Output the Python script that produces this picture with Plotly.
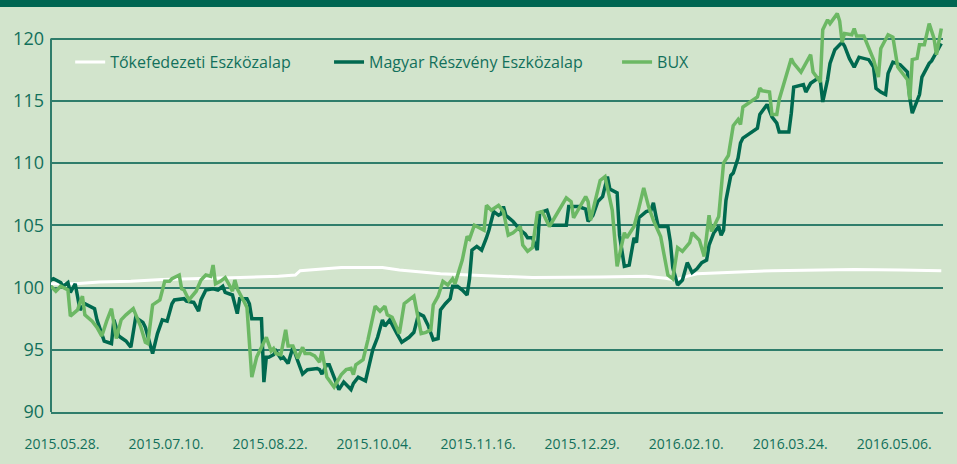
import pandas as pd
import plotly.graph_objects as go

# ---------------- data ----------------
base_date = "2015-05-28"

tick_dates = ["2015-05-28", "2015-07-10", "2015-08-22", "2015-10-04", "2015-11-16",
              "2015-12-29", "2016-02-10", "2016-03-24", "2016-05-06"]
tick_labels = ["2015.05.28.", "2015.07.10.", "2015.08.22.", "2015.10.04.", "2015.11.16.",
               "2015.12.29.", "2016.02.10.", "2016.03.24.", "2016.05.06."]

# day offsets from base_date
tokefed_days = [0, 10, 20, 33, 46, 62, 78, 94, 101, 103, 120, 137, 144, 161, 180, 199,
                227, 246, 254, 258, 264, 267, 298, 332, 351, 368]
tokefed_vals = [100.3, 100.3, 100.45, 100.5, 100.65, 100.7, 100.8, 100.9, 101.0, 101.35,
                101.6, 101.6, 101.4, 101.1, 100.95, 100.8, 100.85, 100.9, 100.75, 100.6,
                100.95, 101.1, 101.35, 101.45, 101.4, 101.35]

magyar_days = [0, 1, 4, 5, 7, 8, 10, 12, 14, 18,
               19, 22, 25, 26, 28, 31, 33, 35, 38, 39,
               42, 44, 46, 48, 50, 51, 55, 56, 59, 61,
               62, 64, 67, 69, 71, 72, 75, 77, 78, 81,
               82, 83, 87, 88, 89, 90, 92, 93, 95, 96,
               98, 100, 102, 104, 106, 110, 111, 112, 114, 115,
               117, 119, 121, 124, 125, 127, 130, 133, 135, 137,
               138, 140, 143, 145, 148, 150, 152, 154, 156, 158,
               160, 161, 163, 165, 166, 168, 170, 172, 173, 174,
               176, 178, 180, 181, 183, 185, 186, 187, 188, 191,
               194, 196, 197, 199, 201, 202, 205, 207, 213, 214,
               218, 221, 222, 224, 226, 228, 230, 231, 234, 235,
               237, 239, 241, 242, 243, 246, 248, 249, 250, 251,
               255, 256, 257, 259, 261, 263, 265, 267, 269, 271,
               272, 274, 276, 277, 278, 279, 281, 282, 284, 285,
               286, 289, 292, 293, 296, 298, 300, 301, 305, 306,
               307, 311, 312, 314, 317, 318, 319, 321, 322, 324,
               325, 327, 328, 330, 332, 334, 338, 340, 341, 343,
               345, 346, 348, 351, 354, 355, 356, 359, 360, 363,
               364, 366, 368]
magyar_vals = [100.6, 100.7, 100.4, 100.1, 100.4, 99.6, 100.3, 98.2, 98.7, 98.3,
               97.4, 95.7, 95.5, 97.4, 96.1, 95.7, 95.2, 97.6, 97.2, 96.8,
               94.7, 96.3, 97.4, 97.3, 98.7, 99.0, 99.1, 98.9, 98.8, 98.1,
               99.0, 99.8, 99.9, 99.8, 100.1, 99.6, 99.4, 97.9, 99.1, 99.1,
               98.7, 97.5, 97.5, 92.4, 94.4, 94.4, 94.6, 94.9, 94.3, 94.4,
               93.9, 95.2, 94.1, 93.05, 93.4, 93.5, 93.4, 93.05, 93.8, 93.8,
               92.8, 91.8, 92.4, 91.8, 92.3, 92.8, 92.5, 95.0, 96.0, 97.4,
               96.9, 97.4, 96.3, 95.6, 96.0, 96.4, 97.9, 97.7, 96.9, 95.8,
               95.9, 98.2, 98.7, 99.1, 100.1, 100.1, 99.8, 99.4, 100.7, 103.0,
               103.3, 103.0, 104.0, 104.6, 106.1, 105.8, 105.9, 106.5, 105.8, 105.3,
               104.6, 104.3, 104.0, 104.0, 103.0, 106.0, 106.2, 105.0, 105.0, 106.5,
               106.5, 106.3, 105.3, 105.8, 106.9, 107.3, 108.9, 107.9, 107.6, 104.2,
               101.7, 101.8, 104.0, 103.6, 105.6, 106.1, 106.2, 106.8, 105.8, 104.9,
               104.9, 103.7, 101.6, 100.2, 100.6, 102.0, 101.2, 101.5, 102.0, 102.2,
               103.4, 104.4, 104.9, 104.2, 104.6, 107.0, 109.0, 109.2, 110.4, 111.6,
               112.0, 112.4, 112.8, 113.9, 114.7, 113.7, 113.2, 112.5, 112.5, 114.0,
               116.1, 116.3, 115.7, 116.4, 116.8, 116.6, 114.9, 116.7, 118.0, 119.1,
               119.3, 119.7, 119.4, 118.4, 117.7, 118.5, 118.3, 117.7, 116.0, 115.7,
               115.5, 117.2, 118.1, 117.9, 117.3, 115.2, 114.0, 115.5, 116.9, 118.0,
               118.2, 118.9, 119.6]

bux_days = [0, 2, 4, 7, 8, 11, 12, 13, 14, 17,
            19, 21, 23, 25, 27, 29, 31, 34, 37, 39,
            40, 42, 45, 47, 49, 50, 53, 54, 55, 57,
            60, 62, 64, 66, 67, 68, 70, 72, 74, 75,
            76, 77, 80, 81, 83, 85, 88, 89, 91, 92,
            93, 95, 97, 98, 100, 102, 104, 105, 107, 109,
            111, 112, 114, 117, 120, 122, 124, 125, 126, 129,
            131, 134, 136, 138, 139, 141, 144, 146, 150, 153,
            155, 157, 158, 160, 162, 164, 166, 167, 170, 172,
            173, 175, 177, 179, 180, 182, 185, 187, 189, 191,
            194, 195, 197, 199, 201, 203, 206, 213, 215, 216,
            221, 222, 223, 227, 229, 232, 234, 237, 238, 241,
            243, 245, 247, 249, 252, 255, 257, 259, 261, 264,
            265, 268, 270, 272, 273, 276, 278, 280, 282, 284,
            285, 286, 289, 292, 293, 294, 297, 298, 300, 301,
            306, 307, 310, 314, 315, 318, 319, 321, 322, 325,
            326, 327, 328, 331, 332, 333, 336, 338, 340, 342,
            343, 346, 348, 350, 354, 355, 356, 358, 359, 361,
            363, 365, 366, 368]
bux_vals = [100.1, 99.7, 100.1, 99.8, 97.7, 98.2, 98.8, 99.3, 97.8, 97.3,
            96.8, 96.1, 97.3, 98.3, 95.9, 97.4, 97.8, 98.3, 96.9, 95.6,
            95.5, 98.6, 99.0, 100.5, 100.5, 100.7, 101.0, 99.9, 99.8, 99.0,
            99.7, 100.6, 101.0, 100.9, 101.8, 100.3, 100.5, 100.8, 100.1, 99.7,
            100.6, 99.9, 98.8, 98.4, 92.8, 94.4, 95.6, 96.0, 94.9, 95.1,
            94.7, 94.6, 96.6, 95.3, 95.3, 94.3, 95.2, 94.7, 94.7, 94.5,
            94.0, 94.9, 92.8, 92.0, 93.0, 93.4, 93.5, 93.0, 93.8, 94.2,
            95.8, 98.5, 98.1, 98.5, 97.8, 97.6, 96.3, 98.7, 99.3, 96.3,
            96.4, 96.6, 98.6, 99.3, 100.5, 100.2, 100.7, 100.3, 102.2, 104.1,
            103.9, 105.0, 104.8, 104.6, 106.6, 106.2, 106.6, 106.1, 104.2, 104.4,
            104.9, 103.4, 102.9, 103.2, 106.0, 106.1, 104.9, 107.2, 106.9, 105.6,
            107.3, 106.9, 105.4, 108.6, 108.9, 106.2, 101.7, 104.4, 104.0, 104.9,
            106.4, 108.0, 106.5, 105.4, 104.1, 101.0, 100.7, 103.2, 102.9, 103.6,
            104.4, 103.8, 102.5, 105.8, 104.5, 105.7, 110.0, 110.6, 113.0, 113.5,
            113.1, 114.5, 114.9, 115.3, 116.0, 115.8, 115.7, 113.9, 113.9, 115.1,
            118.4, 118.0, 117.3, 118.7, 117.3, 116.5, 120.7, 121.5, 121.2, 122.0,
            121.4, 119.7, 120.4, 120.3, 120.8, 120.2, 120.2, 119.3, 118.3, 116.9,
            119.2, 120.3, 120.1, 117.7, 116.7, 115.1, 118.3, 118.4, 119.5, 119.5,
            121.2, 120.0, 118.7, 120.8]

y_ticks = [90, 95, 100, 105, 110, 115, 120]

series_names = ["Tőkefedezeti Eszközalap", "Magyar Részvény Eszközalap", "BUX"]

# ---------------- styles ----------------
BG = "#d2e4cc"
BAR = "#006652"
DARK = "#00694f"
LIGHT = "#6cb864"
WHITE = "#ffffff"
GRID = "#2f7d6b"
TEXT = "#12705b"
FONT = "Open Sans"


def to_dates(days):
    d = pd.Timestamp(base_date) + pd.to_timedelta(days, unit="D")
    return [x.strftime("%Y-%m-%d") for x in d]


fig = go.Figure()
fig.add_trace(go.Scatter(x=to_dates(tokefed_days), y=tokefed_vals, mode="lines",
                         name=series_names[0], line=dict(color=WHITE, width=3),
                         legend="legend"))
fig.add_trace(go.Scatter(x=to_dates(magyar_days), y=magyar_vals, mode="lines",
                         name=series_names[1], line=dict(color=DARK, width=3.5),
                         legend="legend2"))
fig.add_trace(go.Scatter(x=to_dates(bux_days), y=bux_vals, mode="lines",
                         name=series_names[2], line=dict(color=LIGHT, width=3.5),
                         legend="legend3"))

leg_common = dict(orientation="h", yanchor="middle", y=0.866, xanchor="left",
                  bgcolor="rgba(0,0,0,0)", font=dict(family=FONT, size=16, color=TEXT),
                  itemwidth=30)

fig.update_layout(
    width=957, height=464,
    margin=dict(l=51, r=14, t=8, b=52),
    paper_bgcolor=BG, plot_bgcolor=BG,
    showlegend=True,
    legend=dict(x=0.0215, **leg_common),
    legend2=dict(x=0.3117, **leg_common),
    legend3=dict(x=0.6346, **leg_common),
    xaxis=dict(
        type="date",
        range=["2015-05-28", "2016-05-30 17:00"],
        tickvals=tick_dates, ticktext=tick_labels,
        showgrid=False, zeroline=False,
        showline=True, linecolor=GRID, linewidth=2,
        ticks="", ticklabelshift=11, ticklabelstandoff=18,
        tickfont=dict(family=FONT, size=14, color=TEXT),
    ),
    yaxis=dict(
        range=[90, 122.45],
        tickvals=y_ticks,
        showgrid=True, gridcolor=GRID, gridwidth=2,
        zeroline=False, showline=False, ticks="",
        ticklabelstandoff=6,
        tickfont=dict(family=FONT, size=18, color=TEXT),
    ),
    shapes=[
        dict(type="rect", xref="paper", yref="paper", x0=-0.1, x1=1.1,
             y0=1.0025, y1=1.08, fillcolor=BAR, line=dict(width=0), layer="above"),
        dict(type="line", xref="paper", yref="y", x0=0, x1=0, y0=90, y1=120,
             line=dict(color=GRID, width=2), layer="below"),
    ],
)

fig.write_html("out.html", config={"displayModeBar": False},
               post_script="document.body.style.margin='0';")
